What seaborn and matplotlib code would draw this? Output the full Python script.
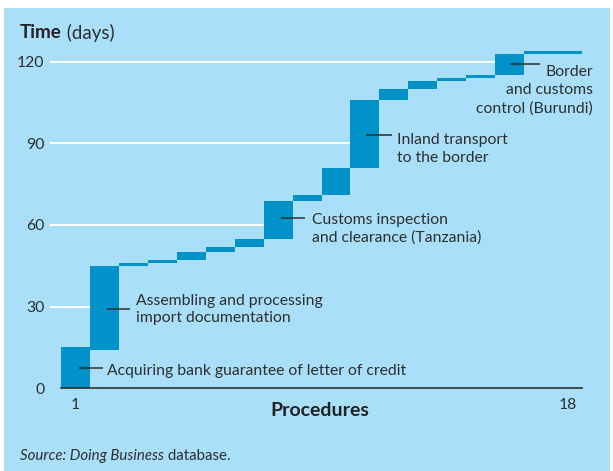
import numpy as np
import pandas as pd
import matplotlib
matplotlib.use("Agg")
import matplotlib.pyplot as plt
from matplotlib.patches import Rectangle
import seaborn as sns

# Import procedures and their start / end times (days)
procedures = list(range(1, 19))
start_days = [0, 14, 45, 46, 47, 50, 52, 55, 69, 71, 81, 106, 110, 113, 114, 115, 123, 123]
end_days = [15, 45, 46, 47, 50, 52, 55, 69, 71, 81, 106, 110, 113, 114, 115, 123, 124, 124]
y_ticks = [0, 30, 60, 90, 120]
x_tick_procedures = [1, 18]

# Callouts: procedure number and its description
callout_procs = [1, 2, 8, 11, 16]
callout_texts = [
    "Acquiring bank guarantee of letter of credit",
    "Assembling and processing\nimport documentation",
    "Customs inspection\nand clearance (Tanzania)",
    "Inland transport\nto the border",
    "Border\nand customs\ncontrol (Burundi)",
]

BG = "#a9dff8"
BAR = "#0092c8"
INK = "#2e2e2e"
W, H = 613, 471

sns.set_theme(style="white")
plt.rcParams["font.family"] = ["Lato", "DejaVu Sans"]

fig = plt.figure(figsize=(W / 100, H / 100), dpi=100)
fig.patch.set_facecolor("white")
fig.patches.append(Rectangle((4 / W, 0), (610 - 4) / W, (H - 8) / H,
                             transform=fig.transFigure, facecolor=BG,
                             edgecolor="none", zorder=-10))

y0_px, ytop = 388.3, 130
px_per_day = (388.3 - 61.7) / 120
ax = fig.add_axes([61 / W, (H - y0_px) / H, (582 - 61) / W,
                   (ytop * px_per_day) / H])
ax.patch.set_alpha(0)

df = pd.DataFrame({
    "procedure": procedures,
    "start": start_days,
    "duration": np.array(end_days) - np.array(start_days),
})
sns.barplot(data=df, x="procedure", y="duration", bottom=df["start"].values,
            color=BAR, saturation=1, width=1.0, errorbar=None,
            linewidth=0, ax=ax, zorder=2)

ax.set_xlim(-0.5, len(procedures) - 0.5)
ax.set_ylim(0, ytop)

# Gridlines run from the left until the staircase reaches that level
bar_px = (582 - 61) / len(procedures)
for g in y_ticks[1:]:
    idx = next(i for i, e in enumerate(end_days) if e >= g)
    ax.hlines(g, -0.5 - 11 / bar_px, idx - 0.5, color="white", lw=1.4,
              clip_on=False, zorder=1)

# Axes styling
for s in ["left", "top", "right"]:
    ax.spines[s].set_visible(False)
ax.spines["bottom"].set_color(INK)
ax.spines["bottom"].set_linewidth(1.2)
ax.spines["bottom"].set_zorder(3)

ax.set_yticks(y_ticks)
ax.set_yticklabels([str(v) for v in y_ticks])
ax.tick_params(axis="y", length=0, pad=12, labelsize=11.3, labelcolor=INK)

ax.set_xticks([procedures.index(p) for p in x_tick_procedures])
ax.set_xticklabels([str(p) for p in x_tick_procedures])
ax.set_xticks(np.arange(0.5, len(procedures)), minor=True)
ax.tick_params(axis="x", which="major", length=0, pad=7, labelsize=11.3,
               labelcolor=INK)
ax.tick_params(axis="x", which="minor", length=4, width=1.1, color=INK,
               direction="out")
ax.set_xlabel("")
ax.set_ylabel("")

# Callouts with leader lines; each text line is set on its own baseline
fs = 11.3
def callout(proc, text, x0, x1, yline, xt, ytext, ha="left", step_px=18):
    i = procedures.index(proc)
    ax.plot([i - 0.5 + x0, i - 0.5 + x1], [yline, yline], color=INK, lw=1.1,
            zorder=4, solid_capstyle="butt", clip_on=False)
    for k, line in enumerate(text.split("\n")):
        ax.annotate(line, xy=(i - 0.5 + xt, ytext),
                    xytext=(0, -k * step_px * 0.72), textcoords="offset points",
                    ha=ha, va="baseline", fontsize=fs, color=INK, zorder=4,
                    annotation_clip=False)

callout(callout_procs[0], callout_texts[0], 0.62, 1.45, 7.35, 1.59, 5.0)
callout(callout_procs[1], callout_texts[1], 0.60, 1.38, 29.1, 1.60, 30.6,
        step_px=17)
callout(callout_procs[2], callout_texts[2], 0.61, 1.42, 62.4, 1.67, 60.3)
callout(callout_procs[3], callout_texts[3], 0.55, 1.45, 93.0, 1.61, 89.7,
        step_px=17.5)
callout(callout_procs[4], callout_texts[4], 0.51, 1.55, 119.2, 3.38, 114.8,
        ha="right", step_px=18.6)

# Title, axis label and source
t = fig.text(20 / W, 1 - 33 / H, "Time", fontsize=13.5, fontweight="bold",
             color="#222222", va="center")
fig.canvas.draw()
r = fig.canvas.get_renderer()
bb = t.get_window_extent(r)
fig.text(bb.x1 / W, 1 - 33 / H, " (days)", fontsize=13.5, color=INK,
         va="center")

fig.text(320 / W, 1 - 411 / H, "Procedures", fontsize=14,
         fontweight="bold", color="#222222", ha="center", va="center")

s = fig.text(20 / W, 1 - 456 / H, "Source: Doing Business", fontsize=10.8,
             style="italic", color=INK, va="center")
fig.canvas.draw()
bb = s.get_window_extent(r)
fig.text(bb.x1 / W, 1 - 456 / H, " database.", fontsize=10.8, color=INK,
         va="center")

fig.savefig("out.png", dpi=100)
